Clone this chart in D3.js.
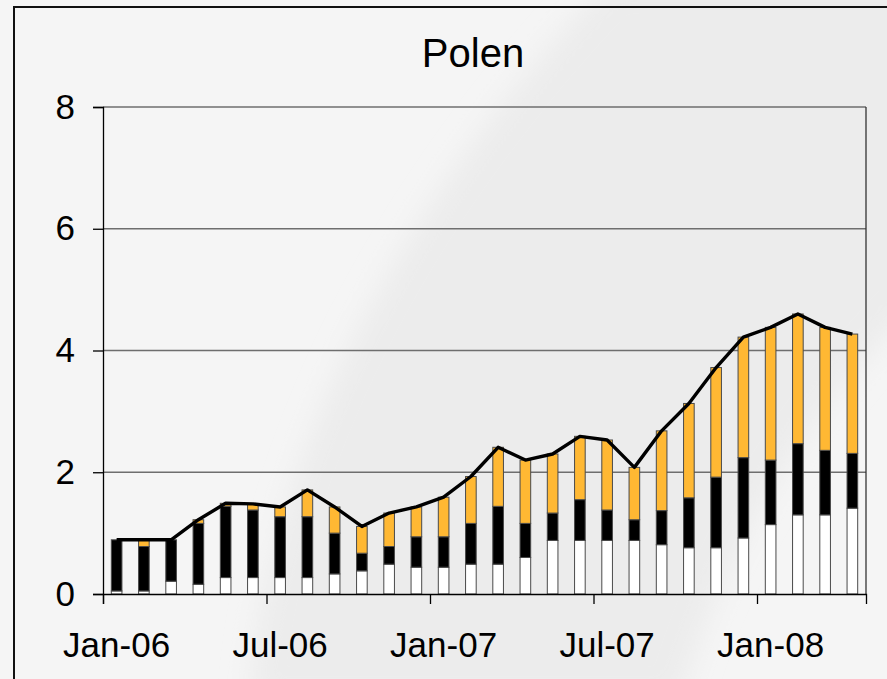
<!DOCTYPE html>
<html>
<head>
<meta charset="utf-8">
<script src="https://cdn.jsdelivr.net/npm/d3@7"></script>
<style>
  body { margin: 0; background: #f5f5f5; }
  svg { display: block; font-family: "Liberation Sans", Arial, sans-serif; }
</style>
</head>
<body>
<div id="chart"></div>
<script>
const months = ["Jan-06", "Feb-06", "Mar-06", "Apr-06", "May-06", "Jun-06", "Jul-06",
    "Aug-06", "Sep-06", "Oct-06", "Nov-06", "Dec-06", "Jan-07", "Feb-07", "Mar-07",
    "Apr-07", "May-07", "Jun-07", "Jul-07", "Aug-07", "Sep-07", "Oct-07", "Nov-07",
    "Dec-07", "Jan-08", "Feb-08", "Mar-08", "Apr-08"];
const whiteVals = [0.05, 0.05, 0.21, 0.16, 0.27, 0.27, 0.27, 0.27, 0.33, 0.38, 0.49, 0.44, 0.44, 0.49,
    0.49, 0.60, 0.88, 0.88, 0.88, 0.88, 0.81, 0.76, 0.76, 0.92, 1.14, 1.30, 1.30, 1.41];
const blackVals = [0.84, 0.73, 0.68, 1.00, 1.17, 1.11, 1.00, 1.00, 0.67, 0.29, 0.29, 0.50, 0.50, 0.67,
    0.95, 0.56, 0.45, 0.67, 0.50, 0.34, 0.56, 0.82, 1.16, 1.32, 1.06, 1.17, 1.06, 0.90];
const orangeVals = [0.00, 0.11, 0.00, 0.06, 0.05, 0.10, 0.16, 0.44, 0.43, 0.44, 0.55, 0.49, 0.65, 0.77,
    0.97, 1.04, 0.97, 1.04, 1.15, 0.86, 1.31, 1.55, 1.80, 1.98, 2.18, 2.13, 2.02, 1.96];
const tickLabels = ["Jan-06", "Jul-06", "Jan-07", "Jul-07", "Jan-08"];
const yTicks = [0, 2, 4, 6, 8];

const W = 887, H = 679;
const plot = { left: 103, right: 866, top: 107, bottom: 594 };

const svg = d3.select("#chart").append("svg")
    .attr("width", W)
    .attr("height", H);

// background with the soft darker swoosh
const defs = svg.append("defs");
defs.append("filter")
    .attr("id", "soft")
    .attr("x", "-20%").attr("y", "-20%")
    .attr("width", "140%").attr("height", "140%")
    .append("feGaussianBlur")
    .attr("stdDeviation", 14);

svg.append("rect").attr("width", W).attr("height", H).attr("fill", "#f5f5f5");
svg.append("path")
    .attr("d", "M250,700 C265,480 380,220 610,-20 L920,-20 L920,300 C800,420 720,560 680,700 Z")
    .attr("fill", "#ececec")
    .attr("filter", "url(#soft)");

// outer frame
svg.append("rect")
    .attr("x", 14).attr("y", 7)
    .attr("width", W + 10).attr("height", H + 10)
    .attr("fill", "none")
    .attr("stroke", "#111")
    .attr("stroke-width", 2);

svg.append("text")
    .attr("x", 473)
    .attr("y", 67)
    .attr("text-anchor", "middle")
    .attr("font-size", 40)
    .text("Polen");

const rows = months.map((m, i) => ({
    month: m,
    white: whiteVals[i],
    black: blackVals[i],
    orange: orangeVals[i],
    total: whiteVals[i] + blackVals[i] + orangeVals[i]
}));

const xScale = d3.scaleBand()
    .domain(months)
    .range([plot.left, plot.right])
    .paddingInner(0.61)
    .paddingOuter(0.305);
const xTick = d3.scaleLinear()
    .domain([0, months.length])
    .range([plot.left, plot.right]);
const yScale = d3.scaleLinear()
    .domain([0, 8])
    .range([plot.bottom, plot.top]);

// gridlines
svg.append("g")
    .selectAll("line")
    .data(yTicks.filter(d => d > 0))
    .enter().append("line")
    .attr("x1", plot.left)
    .attr("x2", plot.right)
    .attr("y1", d => yScale(d))
    .attr("y2", d => yScale(d))
    .attr("stroke", "#6e6e6e")
    .attr("stroke-width", 1.3);

// right border of plot area
svg.append("line")
    .attr("x1", plot.right).attr("x2", plot.right)
    .attr("y1", plot.top).attr("y2", plot.bottom)
    .attr("stroke", "#333")
    .attr("stroke-width", 1.3);

const stack = d3.stack().keys(["white", "black", "orange"])(rows);
const fills = { white: "#ffffff", black: "#000000", orange: "#ffb833" };

svg.append("g")
    .selectAll("g")
    .data(stack)
    .enter().append("g")
    .attr("fill", d => fills[d.key])
    .selectAll("rect")
    .data(d => d.filter(p => p[1] - p[0] > 0))
    .enter().append("rect")
    .attr("x", d => xScale(d.data.month))
    .attr("y", d => yScale(d[1]))
    .attr("width", xScale.bandwidth())
    .attr("height", d => yScale(d[0]) - yScale(d[1]))
    .attr("stroke", "#4a4a4a")
    .attr("stroke-width", 1);

// total line
const line = d3.line()
    .x(d => xScale(d.month) + xScale.bandwidth() / 2)
    .y(d => yScale(d.total));
svg.append("path")
    .datum(rows)
    .attr("d", line)
    .attr("fill", "none")
    .attr("stroke", "#000")
    .attr("stroke-width", 3.4)
    .attr("stroke-linejoin", "round");

// y axis
const yAxis = svg.append("g")
    .attr("transform", `translate(${plot.left},0)`)
    .call(d3.axisLeft(yScale).tickValues(yTicks).tickSize(10).tickPadding(18));
yAxis.select(".domain").attr("stroke", "#000").attr("stroke-width", 1.3);
yAxis.selectAll(".tick line").attr("stroke", "#000").attr("stroke-width", 1.3);
yAxis.selectAll("text")
    .attr("font-size", 35)
    .attr("font-family", "Liberation Sans, Arial, sans-serif")
    .attr("fill", "#000");

// x axis: ticks at month boundaries, labels centred in the month
const xAxis = svg.append("g")
    .attr("transform", `translate(0,${plot.bottom})`)
    .call(d3.axisBottom(xTick).tickValues([0, 6, 12, 18, 24]).tickSize(10).tickFormat(""));
xAxis.select(".domain").attr("stroke", "#000").attr("stroke-width", 1.3);
xAxis.selectAll(".tick line").attr("stroke", "#000").attr("stroke-width", 1.3);

svg.append("g")
    .selectAll("text")
    .data(tickLabels)
    .enter().append("text")
    .attr("x", d => xScale(d) + xScale.bandwidth() / 2)
    .attr("y", 657)
    .attr("text-anchor", "middle")
    .attr("font-size", 35)
    .attr("fill", "#000")
    .text(d => d);
</script>
</body>
</html>
